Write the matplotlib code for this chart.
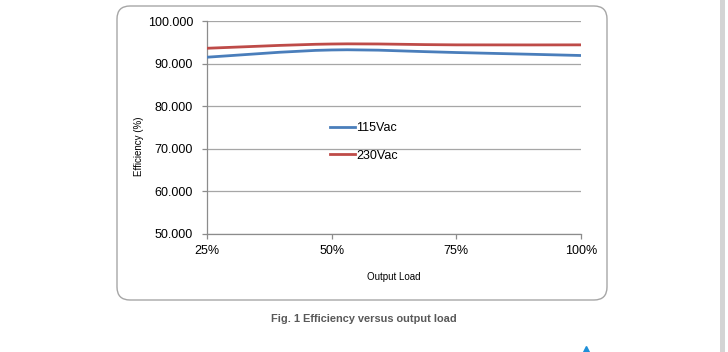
import matplotlib
matplotlib.use("Agg")
import matplotlib.pyplot as plt
import numpy as np
from matplotlib.path import Path
from matplotlib.patches import PathPatch, FancyBboxPatch, Rectangle
from matplotlib.lines import Line2D

plt.rcParams['font.family'] = ['Liberation Sans', 'DejaVu Sans']

# Data
loads = [25, 50, 75, 100]
load_labels = ['25%', '50%', '75%', '100%']
eff_115 = [91.5, 93.2, 92.6, 91.9]
eff_230 = [93.6, 94.6, 94.4, 94.4]
series_names = ['115Vac', '230Vac']
colors = ['#4a7ebb', '#be4b48']

fig = plt.figure(figsize=(7.28, 3.52), dpi=100)
fig.patch.set_facecolor('white')

# rounded frame
frame = FancyBboxPatch((1.17, 0.52), 4.90, 2.94,
                       boxstyle="round,pad=0,rounding_size=0.13",
                       transform=fig.dpi_scale_trans, facecolor='white',
                       edgecolor='#a6a6a6', linewidth=1.0, zorder=-5)
fig.add_artist(frame)

# page edge strip
fig.add_artist(Rectangle((7.20, 0), 0.05, 3.52, transform=fig.dpi_scale_trans,
                         facecolor='#d4d4d4', edgecolor='none', zorder=-5))

ax = fig.add_axes([207/728, (352-234)/352, 374/728, 213/352])
ax.set_facecolor('none')


def smooth_path(xs, ys):
    xs = np.asarray(xs, float)
    ys = np.asarray(ys, float)
    n = len(xs)
    verts = [(xs[0], ys[0])]
    codes = [Path.MOVETO]
    for i in range(n - 1):
        p0 = np.array([xs[max(i - 1, 0)], ys[max(i - 1, 0)]])
        p1 = np.array([xs[i], ys[i]])
        p2 = np.array([xs[i + 1], ys[i + 1]])
        p3 = np.array([xs[min(i + 2, n - 1)], ys[min(i + 2, n - 1)]])
        c1 = p1 + (p2 - p0) / 6.0
        c2 = p2 - (p3 - p1) / 6.0
        verts += [tuple(c1), tuple(c2), tuple(p2)]
        codes += [Path.CURVE4] * 3
    return Path(verts, codes)


for ys, c, name in zip([eff_115, eff_230], colors, series_names):
    patch = PathPatch(smooth_path(loads, ys), facecolor='none', edgecolor=c,
                      linewidth=2.0, zorder=3, capstyle='butt')
    ax.add_patch(patch)
    ax.plot([], [], color=c, linewidth=2.0, label=name)

ax.set_xlim(25, 100)
ax.set_ylim(50, 100)
ax.set_xticks(loads)
ax.set_xticklabels(load_labels)
ax.set_yticks([50, 60, 70, 80, 90, 100])
ax.set_yticklabels(['%.3f' % v for v in [50, 60, 70, 80, 90, 100]])
ax.grid(axis='y', color='#a6a6a6', linewidth=0.9)
ax.set_axisbelow(True)
for s in ['top', 'right']:
    ax.spines[s].set_visible(False)
for s in ['left', 'bottom']:
    ax.spines[s].set_color('#8c8c8c')
    ax.spines[s].set_linewidth(0.9)
ax.tick_params(axis='both', colors='#8c8c8c', labelcolor='black', labelsize=9,
               length=3.6, width=0.9)
ax.tick_params(axis='y', pad=6.5)
ax.tick_params(axis='x', pad=4)

ax.set_xlabel('Output Load', fontsize=7, labelpad=11)
ax.set_ylabel('Efficiency (%)', fontsize=7)
ax.yaxis.set_label_coords(-0.169, 0.41)

leg = ax.legend(loc='center left', bbox_to_anchor=(0.328, 0.432), frameon=False,
                fontsize=9, handlelength=2.0, handletextpad=0.1,
                labelspacing=1.22, borderpad=0, borderaxespad=0)

fig.text(364/728, 1 - 319/352, 'Fig. 1 Efficiency versus output load',
         ha='center', va='center', fontsize=7.9, fontweight='bold', color='#595959')

fig.add_artist(Line2D([586/728], [1 - 349/352], marker='^', markersize=4,
                      color='#1e8fd8', linestyle='none', transform=fig.transFigure))

fig.savefig('out.png', dpi=100)
